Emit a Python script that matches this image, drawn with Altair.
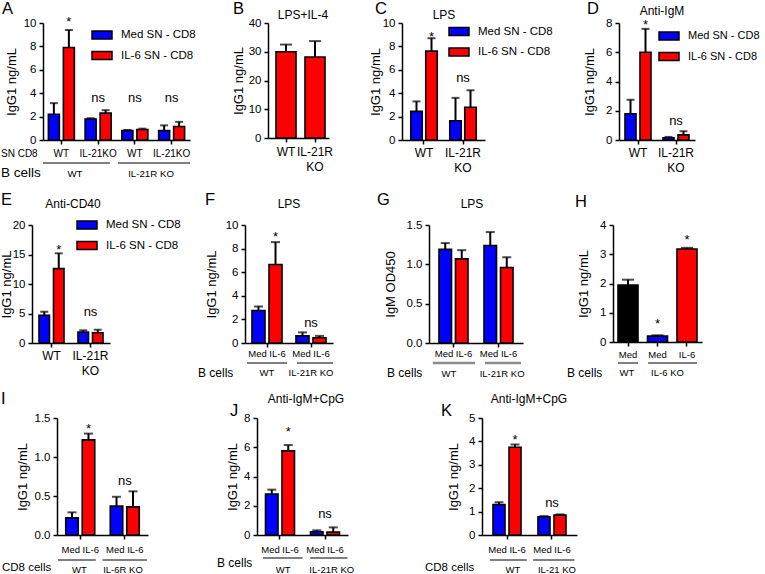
import altair as alt
import pandas as pd

FONT = "Liberation Sans"
W, H = 765, 574
BLUE, RED, BLACK, GREY = "#0000ff", "#ff0000", "#000000", "#8c8c8c"

MED_SN, IL6_SN = "Med SN - CD8", "IL-6 SN - CD8"
SN_CONDS = [MED_SN, IL6_SN]
B_CONDS = ["Med", "IL-6"]
SN_COLORS = [BLUE, RED]
TWO = ["WT", "KO"]
RKO_LABELS = ["WT", "IL-21R\nKO"]
MED_IL6 = ["Med IL-6", "Med IL-6"]
IGG = "IgG1 ng/mL"

# ---------------- values ----------------
A_groups = ["a_wt_wt", "a_wt_ko", "a_ko_wt", "a_ko_ko"]
A_ticklabels = ["WT", "IL-21KO", "WT", "IL-21KO"]
A_med = [2.2, 1.8, 0.8, 0.8]
A_med_err = [0.95, 0.06, 0.06, 0.45]
A_il6 = [7.9, 2.3, 0.9, 1.15]
A_il6_err = [1.5, 0.25, 0.07, 0.4]
A_stars = [("a_wt_wt", IL6_SN, 10.7)]
A_ns = [("a_wt_ko", 3.85), ("a_ko_wt", 3.85), ("a_ko_ko", 3.85)]

B_vals = [30.0, 28.2]
B_err = [2.5, 5.5]

C_med = [2.45, 1.65]; C_med_err = [0.85, 1.95]
C_il6 = [7.6, 2.8]; C_il6_err = [1.1, 1.45]
C_stars = [("WT", IL6_SN, 9.4)]; C_ns = [("KO", 5.55)]

D_med = [1.8, 0.15]; D_med_err = [0.95, 0.06]
D_il6 = [6.0, 0.35]; D_il6_err = [1.6, 0.25]
D_stars = [("WT", IL6_SN, 8.35)]; D_ns = [("KO", 1.5)]

E_med = [4.7, 1.85]; E_med_err = [0.6, 0.3]
E_il6 = [12.6, 1.75]; E_il6_err = [2.6, 0.5]
E_stars = [("WT", IL6_SN, 17.1)]; E_ns = [("KO", 5.9)]

F_med = [2.75, 0.6]; F_med_err = [0.35, 0.3]
F_il6 = [6.65, 0.45]; F_il6_err = [1.9, 0.15]
F_stars = [("WT", "IL-6", 9.6)]; F_ns = [("KO", 1.95)]

G_med = [1.19, 1.24]; G_med_err = [0.08, 0.17]
G_il6 = [1.07, 0.96]; G_il6_err = [0.11, 0.13]

H_groups = ["h_wt_med", "h_ko_med", "h_ko_il6"]
H_ticklabels = ["Med", "Med", "IL-6"]
H_vals = [1.95, 0.2, 3.18]
H_err = [0.18, 0.03, 0.04]
H_stars = [("h_ko_med", 0.86), ("h_ko_il6", 3.74)]

I_med = [0.22, 0.37]; I_med_err = [0.07, 0.12]
I_il6 = [1.22, 0.36]; I_il6_err = [0.08, 0.2]
I_stars = [("WT", "IL-6", 1.45)]; I_ns = [("KO", 0.74)]

J_med = [2.8, 0.22]; J_med_err = [0.3, 0.1]
J_il6 = [5.75, 0.2]; J_il6_err = [0.4, 0.32]
J_stars = [("WT", "IL-6", 7.52)]; J_ns = [("KO", 1.66)]

K_med = [1.3, 0.78]; K_med_err = [0.1, 0.03]
K_il6 = [3.75, 0.85]; K_il6_err = [0.12, 0.03]
K_stars = [("WT", "IL-6", 4.37)]; K_ns = [("KO", 1.5)]

STAR_FS = 13
NS_FS = 13

# ---------------- panel layout ----------------
PANELS = [
    dict(groups=A_groups, conds=SN_CONDS, colors=SN_COLORS, means=[A_med, A_il6], errs=[A_med_err, A_il6_err],
         stars=A_stars, ns=A_ns, ticklabels=A_ticklabels,
         xr=(43, 190), yr=(140, 23), ymax=10, yticks=[0, 2, 4, 6, 8, 10], fmt="d", ytitle=IGG, d=25,
         po=0.0, opi=0.267, opo=0.358, cap=8, legend=(92, 29, 11.5), tl=(157, 10, 12),
         ul=(163, BLACK, 1, [("a_wt_wt", 0.0, "a_wt_ko", 0.82), ("a_ko_wt", 0.04, "a_ko_ko", 1.0)]),
         gl=(177, 9.7, [("a_wt_wt", 0.87, "WT"), ("a_ko_wt", 0.94, "IL-21R KO")])),
    dict(groups=TWO, conds=["LPS+IL-4"], colors=[RED, RED], means=B_vals, errs=B_err, ticklabels=RKO_LABELS,
         xr=(268, 329), yr=(138, 23), ymax=40, yticks=[0, 10, 20, 30, 40], fmt="d", ytitle=IGG, d=23,
         pi=0.31, po=0.207, align=0.667, cap=12, tl=(156, 12, 14.5)),
    dict(groups=TWO, conds=SN_CONDS, colors=SN_COLORS, means=[C_med, C_il6], errs=[C_med_err, C_il6_err],
         stars=C_stars, ns=C_ns, ticklabels=RKO_LABELS,
         xr=(402, 485), yr=(140, 23), ymax=10, yticks=[0, 2, 4, 6, 8, 10], fmt="d", ytitle=IGG, d=20,
         po=0.064, opi=0.233, opo=0.417, cap=8, legend=(449, 25.5, 11.5), tl=(157, 12, 15)),
    dict(groups=TWO, conds=SN_CONDS, colors=SN_COLORS, means=[D_med, D_il6], errs=[D_med_err, D_il6_err],
         stars=D_stars, ns=D_ns, ticklabels=RKO_LABELS,
         xr=(619, 695), yr=(140, 23), ymax=8, yticks=[0, 2, 4, 6, 8], fmt="d", ytitle=IGG, d=23,
         po=0.0, opi=0.267, opo=0.4, cap=8, legend=(659, 30, 11), tl=(157, 12, 15)),
    dict(groups=TWO, conds=SN_CONDS, colors=SN_COLORS, means=[E_med, E_il6], errs=[E_med_err, E_il6_err],
         stars=E_stars, ns=E_ns, ticklabels=RKO_LABELS,
         xr=(32, 110), yr=(343, 225), ymax=20, yticks=[0, 5, 10, 15, 20], fmt="d", ytitle=IGG, d=19,
         po=0.0, opi=0.276, opo=0.483, cap=8, legend=(77, 219, 11.5), tl=(360, 12, 15)),
    dict(groups=TWO, conds=B_CONDS, colors=SN_COLORS, means=[F_med, F_il6], errs=[F_med_err, F_il6_err],
         stars=F_stars, ns=F_ns, ticklabels=MED_IL6,
         xr=(245, 333), yr=(343, 225), ymax=10, yticks=[0, 2, 4, 6, 8, 10], fmt="d", ytitle=IGG, d=27,
         po=0.0, opi=0.235, opo=0.41, cap=9, tl=(357, 9.5, 12),
         ul=(363, BLACK, 1, [("WT", 0.045, "WT", 0.955), ("KO", 0.18, "KO", 1.0)]),
         gl=(376, 9.5, [("WT", 0.5, "WT"), ("KO", 0.5, "IL-21R KO")])),
    dict(groups=TWO, conds=B_CONDS, colors=SN_COLORS, means=[G_med, G_il6], errs=[G_med_err, G_il6_err],
         ticklabels=MED_IL6,
         xr=(429, 523), yr=(343, 225), ymax=1.5, yticks=[0, 0.5, 1.0, 1.5], fmt=".1f", ytitle="IgM OD450", d=32,
         po=0.044, opi=0.242, opo=0.485, cap=9, tl=(357, 9.5, 12),
         ul=(363, GREY, 2.5, [("WT", 0.04, "WT", 0.98), ("KO", 0.2, "KO", 1.0)]),
         gl=(377, 9.5, [("WT", 0.4, "WT"), ("KO", 0.58, "IL-21R KO")])),
    dict(groups=H_groups, conds=["H"], colors=[BLACK, BLUE, RED], means=H_vals, errs=H_err, stars=H_stars,
         ticklabels=H_ticklabels,
         xr=(613, 702), yr=(342, 225), ymax=4, yticks=[0, 1, 2, 3, 4], fmt="d", ytitle=IGG, d=23,
         pi=0.322, po=0.17, cap=12, tl=(358, 9.5, 12),
         ul=(363, BLACK, 1, [("h_wt_med", 0.0, "h_wt_med", 1.0), ("h_ko_med", 0.03, "h_ko_il6", 1.0)]),
         gl=(376, 9.5, [("h_wt_med", 0.45, "WT"), ("h_ko_med", 1.0, "IL-6 KO")])),
    dict(groups=TWO, conds=B_CONDS, colors=SN_COLORS, means=[I_med, I_il6], errs=[I_med_err, I_il6_err],
         stars=I_stars, ns=I_ns, ticklabels=MED_IL6,
         xr=(57, 148), yr=(535, 418), ymax=1.5, yticks=[0, 0.5, 1.0, 1.5], fmt=".1f", ytitle=IGG, d=28,
         po=0.022, opi=0.242, opo=0.47, cap=9, tl=(553, 9.5, 12),
         ul=(560, BLACK, 1, [("WT", 0.0, "WT", 0.85), ("KO", 0.0, "KO", 1.0)]),
         gl=(572.5, 9.5, [("WT", 0.48, "WT"), ("KO", 0.46, "IL-6R KO")])),
    dict(groups=TWO, conds=B_CONDS, colors=SN_COLORS, means=[J_med, J_il6], errs=[J_med_err, J_il6_err],
         stars=J_stars, ns=J_ns, ticklabels=MED_IL6,
         xr=(257, 348), yr=(535, 418), ymax=8, yticks=[0, 2, 4, 6, 8], fmt="d", ytitle=IGG, d=18,
         po=0.011, opi=0.242, opo=0.485, cap=9, tl=(553, 9.5, 12),
         ul=(558, BLACK, 1, [("WT", 0.12, "WT", 1.0), ("KO", 0.17, "KO", 1.0)]),
         gl=(572.5, 9.5, [("WT", 0.57, "WT"), ("KO", 0.65, "IL-21R KO")])),
    dict(groups=TWO, conds=B_CONDS, colors=SN_COLORS, means=[K_med, K_il6], errs=[K_med_err, K_il6_err],
         stars=K_stars, ns=K_ns, ticklabels=MED_IL6,
         xr=(482, 577), yr=(535, 418), ymax=5, yticks=[0, 1, 2, 3, 4, 5], fmt="d", ytitle=IGG, d=22,
         po=0.056, opi=0.25, opo=0.53, cap=9, tl=(553, 9.5, 12),
         ul=(560, BLACK, 1, [("WT", 0.12, "WT", 0.94), ("KO", 0.08, "KO", 1.0)]),
         gl=(572.5, 9.5, [("WT", 0.63, "WT"), ("KO", 0.61, "IL-21 KO")])),
]

LETTERS = [("A", 2, 14), ("B", 233, 14), ("C", 375, 14), ("D", 587, 14),
           ("E", 1, 205), ("F", 205, 205), ("G", 377, 205), ("H", 575, 207),
           ("I", 1, 404), ("J", 230, 416), ("K", 441, 416)]
TITLES = [("LPS+IL-4", 303, 19), ("LPS", 444, 19), ("Anti-IgM", 662, 15),
          ("Anti-CD40", 73, 208), ("LPS", 289, 208), ("LPS", 472, 208),
          ("Anti-IgM+CpG", 306, 403), ("Anti-IgM+CpG", 529, 403)]
ROW_LABELS = [("SN CD8", 1, 157, 10), ("B cells", 1, 177, 13.5),
              ("B cells", 198, 377, 12), ("B cells", 387, 377, 12), ("B cells", 567, 377, 12),
              ("CD8 cells", 2, 571, 11.5), ("B cells", 217, 567, 12), ("CD8 cells", 425, 571, 11.5)]


def build_panel(P):
    x0, x1 = P["xr"]
    yb, yt = P["yr"]
    groups, conds = P["groups"], P["conds"]
    grouped = len(conds) > 1
    xsc = alt.Scale(domain=groups, range=[x0, x1], paddingInner=P.get("pi", 0),
                    paddingOuter=P.get("po", 0), align=P.get("align", 0.5))
    xax = alt.Axis(orient="bottom", offset=yb - H, labels=False, ticks=True, tickSize=4, tickWidth=1.5,
                   tickColor=BLACK, domainColor=BLACK, domainWidth=1.5, grid=False, title=None)

    def X(field="grp", bp=None):
        if bp is None:
            return alt.X(f"{field}:N", scale=xsc, axis=xax)
        return alt.X(f"{field}:N", scale=xsc, axis=xax, bandPosition=bp)

    ysc = alt.Scale(domain=[0, P["ymax"]], range=[yb, yt], nice=False, zero=False)
    yax = alt.Axis(orient="left", offset=-x0, values=P["yticks"], format=P["fmt"], tickSize=4, tickWidth=1.5,
                   tickColor=BLACK, domainColor=BLACK, domainWidth=1.5, grid=False, labelFont=FONT,
                   labelFontSize=11.5, labelColor=BLACK, labelPadding=3, title=P["ytitle"], titleFont=FONT,
                   titleFontSize=13, titleFontWeight="normal", titleColor=BLACK, titlePadding=0,
                   minExtent=P["d"], maxExtent=P["d"])

    def Y(field):
        return alt.Y(f"{field}:Q", scale=ysc, axis=yax)

    XO = None
    if grouped:
        XO = alt.XOffset("cond:N", scale=alt.Scale(domain=conds, paddingInner=P["opi"], paddingOuter=P["opo"]))

    rows = []
    if grouped:
        for c, ms, es in zip(conds, P["means"], P["errs"]):
            for g, m, e in zip(groups, ms, es):
                rows.append({"grp": g, "cond": c, "mean": m, "top": m + e})
    else:
        for g, m, e in zip(groups, P["means"], P["errs"]):
            rows.append({"grp": g, "cond": g, "mean": m, "top": m + e})
    df = pd.DataFrame(rows)

    def enc(**extra):
        d = {"x": X()}
        if grouped:
            d["xOffset"] = XO
        d.update(extra)
        return d

    ckeys = conds if grouped else groups
    if P.get("legend"):
        lx, ly, lfs = P["legend"]
        leg = alt.Legend(orient="none", legendX=lx, legendY=ly, title=None,
                         symbolType="M-2,-0.8L2,-0.8L2,0.8L-2,0.8Z", symbolSize=100,
                         symbolStrokeColor=BLACK, symbolStrokeWidth=1.5, symbolOffset=4, labelOffset=13,
                         labelFont=FONT, labelFontSize=lfs, labelColor=BLACK, rowPadding=6.5, padding=0,
                         labelLimit=300)
    else:
        leg = None
    color = alt.Color("cond:N", scale=alt.Scale(domain=ckeys, range=P["colors"]), legend=leg)

    layers = [
        alt.Chart(df).mark_bar(stroke=BLACK, strokeWidth=1.6).encode(**enc(y=Y("mean"), color=color)),
        alt.Chart(df).mark_rule(color=BLACK, strokeWidth=2).encode(**enc(y=Y("mean"), y2=alt.Y2("top:Q"))),
        alt.Chart(df).mark_tick(color=BLACK, thickness=2, size=P["cap"], orient="horizontal").encode(
            **enc(y=Y("top"))),
    ]

    if P.get("stars"):
        srows = []
        for s in P["stars"]:
            if grouped:
                srows.append({"grp": s[0], "cond": s[1], "ly": s[2]})
            else:
                srows.append({"grp": s[0], "ly": s[1]})
        e = {"x": X(), "y": Y("ly")}
        if grouped:
            e["xOffset"] = XO
        layers.append(alt.Chart(pd.DataFrame(srows)).mark_text(
            text="*", font=FONT, fontSize=STAR_FS, dy=0.575 * STAR_FS, color=BLACK).encode(**e))

    if P.get("ns"):
        ndf = pd.DataFrame([{"grp": g, "ly": v} for g, v in P["ns"]])
        layers.append(alt.Chart(ndf).mark_text(
            text="ns", font=FONT, fontSize=NS_FS, dy=0.26 * NS_FS, color=BLACK).encode(x=X(), y=Y("ly")))

    if P.get("tl"):
        ty, tfs, tlh = P["tl"]
        tdf = pd.DataFrame({"grp": groups, "lab": P["ticklabels"]})
        layers.append(alt.Chart(tdf).mark_text(
            font=FONT, fontSize=tfs, lineHeight=tlh, lineBreak="\n", baseline="alphabetic", color=BLACK
        ).encode(x=X(), y=alt.value(ty), text="lab:N"))

    if P.get("ul"):
        uy, ucol, uw, segs = P["ul"]
        for g0, b0, g1, b1 in segs:
            udf = pd.DataFrame({"g0": [g0], "g1": [g1]})
            layers.append(alt.Chart(udf).mark_rule(color=ucol, strokeWidth=uw).encode(
                x=X("g0", b0), x2=alt.X2("g1:N", bandPosition=b1), y=alt.value(uy)))

    if P.get("gl"):
        gy, gfs, items = P["gl"]
        for g, bp, txt in items:
            gdf = pd.DataFrame({"grp": [g]})
            layers.append(alt.Chart(gdf).mark_text(
                text=txt, font=FONT, fontSize=gfs, baseline="alphabetic", color=BLACK
            ).encode(x=X("grp", bp), y=alt.value(gy)))

    return alt.layer(*layers)


one = pd.DataFrame({"k": [0]})


def label(text, x, y, size, align="left"):
    return alt.Chart(one).mark_text(text=text, align=align, baseline="alphabetic", font=FONT,
                                    fontSize=size, color=BLACK).encode(x=alt.value(x), y=alt.value(y))


panels = [build_panel(P) for P in PANELS]
texts = ([label(t, x, y, 16.5) for t, x, y in LETTERS]
         + [label(t, x, y, 12, "center") for t, x, y in TITLES]
         + [label(t, x, y, s) for t, x, y, s in ROW_LABELS])

chart = (
    alt.layer(*panels, *texts)
    .resolve_scale(x="independent", y="independent", xOffset="independent", color="independent")
    .resolve_axis(x="independent", y="independent")
    .resolve_legend(color="independent")
    .properties(width=W, height=H, padding=0, autosize=alt.AutoSizeParams(type="none"))
    .configure_view(stroke=None)
)

chart.save("out.html", embed_options={"renderer": "svg", "actions": False})
